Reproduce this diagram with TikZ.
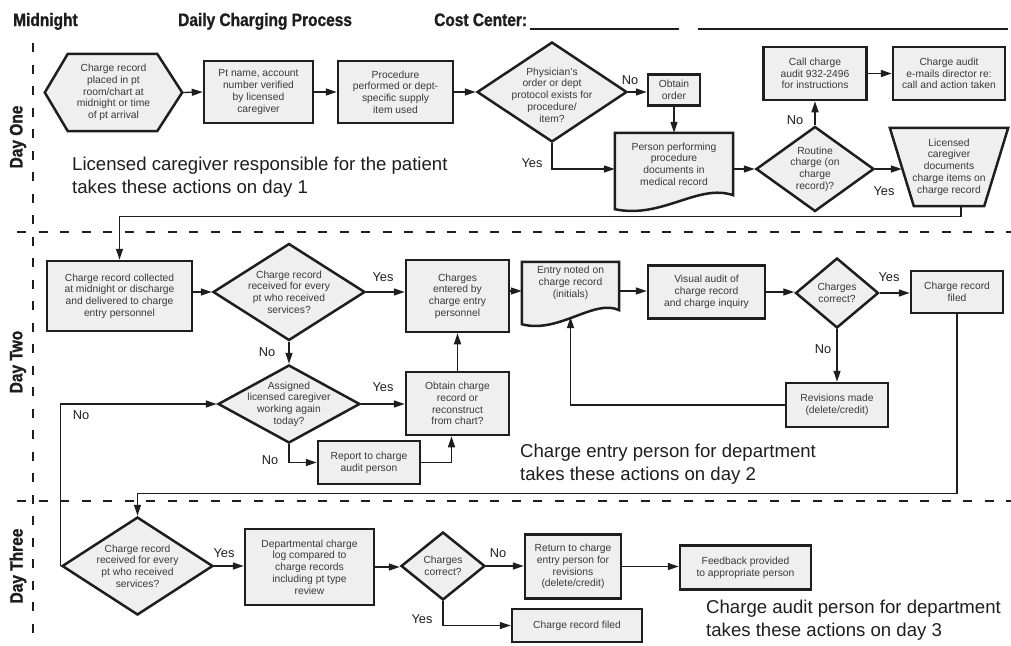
\documentclass[tikz,border=0pt]{standalone}
\usepackage{fontspec}
\setmainfont{Liberation Sans}
\newfontfamily\headfont[FakeStretch=0.86,BoldFeatures={FakeBold=1.2}]{Liberation Sans}
\usetikzlibrary{arrows.meta,shapes.geometric,calc,backgrounds}

\definecolor{ink}{HTML}{1E1E1E}
\definecolor{boxfill}{HTML}{EFEFEF}
\definecolor{boxtext}{HTML}{3A3A3A}

\newcommand{\boxfont}{\fontsize{10.3}{11.7}\selectfont}

\tikzset{
  shapeline/.style={draw=ink, line width=2.5pt, fill=boxfill},
  proc/.style={shapeline, rectangle, inner sep=0pt, align=center, text=boxtext, font=\boxfont},
  decide/.style={shapeline, diamond, inner sep=0pt},
  holder/.style={rectangle, inner sep=0pt, align=center, text=boxtext, font=\boxfont},
  flow/.style={draw=ink, line width=1.3pt, -{Triangle[length=11pt,width=7pt]}},
  yesno/.style={inner sep=0pt, text=ink, font=\fontsize{12.8}{14}\selectfont},
  note/.style={inner sep=0pt, align=left, anchor=base west, text=ink, font=\fontsize{18.6}{23}\selectfont},
  head/.style={inner sep=0pt, anchor=base west, text=ink, font=\headfont\bfseries\fontsize{18}{20}\selectfont},
  lanename/.style={inner sep=0pt, rotate=90, text=ink, font=\headfont\bfseries\fontsize{18}{20}\selectfont},
  laneline/.style={draw=ink, line width=2.5pt, dash pattern=on 9pt off 12.5pt},
}

% paper with a wavy bottom edge
\newcommand{\docshape}[1]{%
  \path[shapeline] (#1.north west) -- (#1.north east) -- ($(#1.south east)+(0,-10)$)
    .. controls ($(#1.south)+(24,-22)$) and ($(#1.south)+(-12,14)$) .. ($(#1.south west)+(0,4)$) -- cycle;}

\begin{document}
\begin{tikzpicture}[x=1pt,y=-1pt]
\useasboundingbox (0,0) rectangle (1011,645);

% header
\node[head] (mid) at (13,26) {Midnight};
\node[head] (title) at (178,26) {Daily Charging Process};
\node[head] (cost) at (434,26) {Cost Center:};
\draw[ink, line width=1.2pt] (530,29) -- (679,29);
\draw[ink, line width=1.2pt] (698,29) -- (1008,29);

% lanes
\draw[laneline] (33,43) -- (33,640);
\draw[laneline] (17,232) -- (1011,232);
\draw[laneline] (17,501) -- (1011,501);
\node[lanename] (day1) at (18,137) {Day One};
\node[lanename] (day2) at (18,362) {Day Two};
\node[lanename] (day3) at (18,566) {Day Three};

% day one
\node[holder, minimum width=137pt, minimum height=77pt] (hex) at (113.5,92.5) {Charge record\\placed in pt\\room/chart at\\midnight or time\\of pt arrival};
\node[proc, minimum width=109pt, minimum height=62pt] (verify) at (258.5,92) {Pt name, account\\number verified\\by licensed\\caregiver};
\node[proc, minimum width=115pt, minimum height=62pt] (perform) at (395.5,92) {Procedure\\performed or dept-\\specific supply\\item used};
\node[decide, minimum width=150pt, minimum height=100pt] (order) at (552,92) {};
\node[holder] (ordert) at ($(order)+(0,3)$) {Physician’s\\order or dept\\protocol exists for\\procedure/\\item?};
\node[proc, minimum width=52pt, minimum height=31pt] (obtain) at (674,90) {Obtain\\order};
\node[holder, minimum width=118pt, minimum height=72pt] (perdoc) at (674,169) {};
\node[decide, minimum width=118pt, minimum height=85pt] (routine) at (815,169) {};
\node[holder] (routinet) at (routine) {Routine\\charge (on\\charge\\record)?};
\node[proc, minimum width=103pt, minimum height=53pt] (call) at (815,73.5) {Call charge\\audit 932-2496\\for instructions};
\node[proc, minimum width=112pt, minimum height=53pt] (notify) at (949,73.5) {Charge audit\\e-mails director re:\\call and action taken};
\node[holder, minimum width=118pt, minimum height=78pt] (itemize) at (949,167) {Licensed\\caregiver\\documents\\charge items on\\charge record};
\coordinate (itemizein) at ($(itemize.west)+(12,0)$);

% day two
\node[proc, minimum width=145pt, minimum height=70pt] (collect) at (119.5,296) {Charge record collected\\at midnight or discharge\\and delivered to charge\\entry personnel};
\node[decide, minimum width=152pt, minimum height=97pt] (got) at (289,292) {};
\node[holder] (gott) at (got) {Charge record\\received for every\\pt who received\\services?};
\node[proc, minimum width=103pt, minimum height=72pt] (entered) at (457.5,296) {Charges\\entered by\\charge entry\\personnel};
\node[decide, minimum width=142pt, minimum height=78pt] (caregiver) at (289,404) {};
\node[holder] (caregivert) at (caregiver) {Assigned\\licensed caregiver\\working again\\today?};
\node[proc, minimum width=103pt, minimum height=63pt] (reobtain) at (457.5,403.5) {Obtain charge\\record or\\reconstruct\\from chart?};
\node[proc, minimum width=102pt, minimum height=43pt] (report) at (369,462.5) {Report to charge\\audit person};
\node[holder, minimum width=97pt, minimum height=58pt] (entry) at (570.5,291) {};
\node[proc, minimum width=117pt, minimum height=53pt] (visual) at (706.5,292) {Visual audit of\\charge record\\and charge inquiry};
\node[decide, minimum width=83pt, minimum height=70pt] (correct) at (837,293) {};
\node[holder] (correctt) at (correct) {Charges\\correct?};
\node[proc, minimum width=92pt, minimum height=42pt] (filed) at (957,292) {Charge record\\filed};
\node[proc, minimum width=102pt, minimum height=44pt] (revise) at (837,405) {Revisions made\\(delete/credit)};

% day three
\node[decide, minimum width=151pt, minimum height=98pt] (received) at (137.5,566) {};
\node[holder] (receivedt) at (received) {Charge record\\received for every\\pt who received\\services?};
\node[proc, minimum width=129pt, minimum height=76pt] (compare) at (309.5,567) {Departmental charge\\log compared to\\charge records\\including pt type\\review};
\node[decide, minimum width=84pt, minimum height=68pt] (recheck) at (443,566) {};
\node[holder] (recheckt) at (recheck) {Charges\\correct?};
\node[proc, minimum width=96pt, minimum height=64pt] (returned) at (573,566.5) {Return to charge\\entry person for\\revisions\\(delete/credit)};
\node[proc, minimum width=131pt, minimum height=44pt] (feedback) at (745.5,567.5) {Feedback provided\\to appropriate person};
\node[proc, minimum width=130pt, minimum height=33pt] (logged) at (577,625.5) {Charge record filed};

\begin{scope}[on background layer]
\path[shapeline] (hex.west) -- ($(hex.north west)+(23,0)$) -- ($(hex.north east)+(-25,0)$) -- (hex.east)
  -- ($(hex.south east)+(-25,0)$) -- ($(hex.south west)+(23,0)$) -- cycle;
\path[shapeline] (itemize.north west) -- (itemize.north east) -- ($(itemize.south east)+(-24,0)$)
  -- ($(itemize.south west)+(24,0)$) -- cycle;
\docshape{perdoc}
\docshape{entry}
\end{scope}
\node[holder] (perdoct) at (674,164) {Person performing\\procedure\\documents in\\medical record};
\node[holder] (entryt) at (570.5,283) {Entry noted on\\charge record\\(initials)};

% connectors, day one
\draw[flow] (hex.east) -- (verify.west);
\draw[flow] (verify.east) -- (perform.west);
\draw[flow] (perform.east) -- (order.west);
\draw[flow] (order.east) -- (order.east -| obtain.west);
\draw[flow] (obtain.south) -- (perdoc.north);
\draw[flow] (order.south) |- (perdoc.west);
\draw[flow] (perdoc.east) -- (routine.west);
\draw[flow] (routine.north) -- (call.south);
\draw[flow] (call.east) -- (notify.west);
\draw[flow] (routine.east) -- (routine.east -| itemizein);
\draw[flow] ([xshift=12pt]itemize.south) -- ++(0,10) -| (collect.north);

% connectors, day two
\draw[flow] (collect.east |- got.west) -- (got.west);
\draw[flow] (got.east) -- (got.east -| entered.west);
\draw[flow] (entered.east |- entry.west) -- (entry.west);
\draw[flow] (entry.east) -- (entry.east -| visual.west);
\draw[flow] (visual.east) -- (visual.east -| correct.west);
\draw[flow] (correct.east) -- (correct.east -| filed.west);
\draw[flow] (correct.south) -- (revise.north);
\draw[flow] (revise.west) -| ($(entry.south)+(0,-3)$);
\draw[flow] (got.south) -- (caregiver.north);
\draw[flow] (caregiver.east) -- (caregiver.east -| reobtain.west);
\draw[flow] (reobtain.north) -- (entered.south);
\draw[flow] (caregiver.south) |- (report.west);
\draw[flow] (report.east) -| ([xshift=-6pt]reobtain.south);
\draw[flow] (received.west) |- (caregiver.west);
\draw[flow] (filed.south) -- ++(0,179) -| (received.north);

% connectors, day three
\draw[flow] (received.east) -- (received.east -| compare.west);
\draw[flow] (compare.east) -- (compare.east -| recheck.west);
\draw[flow] (recheck.east) -- (recheck.east -| returned.west);
\draw[flow] (returned.east) -- (returned.east -| feedback.west);
\draw[flow] (recheck.south) |- (logged.west);

% yes / no
\node[yesno] (no1) at (630,80) {No};
\node[yesno] (yes1) at (532,163) {Yes};
\node[yesno] (no2) at (795,120) {No};
\node[yesno] (yes2) at (884,191) {Yes};
\node[yesno] (yes3) at (383,277) {Yes};
\node[yesno] (no3) at (267,352) {No};
\node[yesno] (yes4) at (383,387) {Yes};
\node[yesno] (no4) at (270,460) {No};
\node[yesno] (no5) at (81,415) {No};
\node[yesno] (yes5) at (889,277) {Yes};
\node[yesno] (no6) at (823,349) {No};
\node[yesno] (yes6) at (224,553) {Yes};
\node[yesno] (no7) at (498,553) {No};
\node[yesno] (yes7) at (422,619) {Yes};

% who does what (base sits on the second line)
\node[note] (note1) at (72,193) {Licensed caregiver responsible for the patient\\takes these actions on day 1};
\node[note] (note2) at (520,480) {Charge entry person for department\\takes these actions on day 2};
\node[note] (note3) at (706,636) {Charge audit person for department\\takes these actions on day 3};
\end{tikzpicture}
\end{document}
